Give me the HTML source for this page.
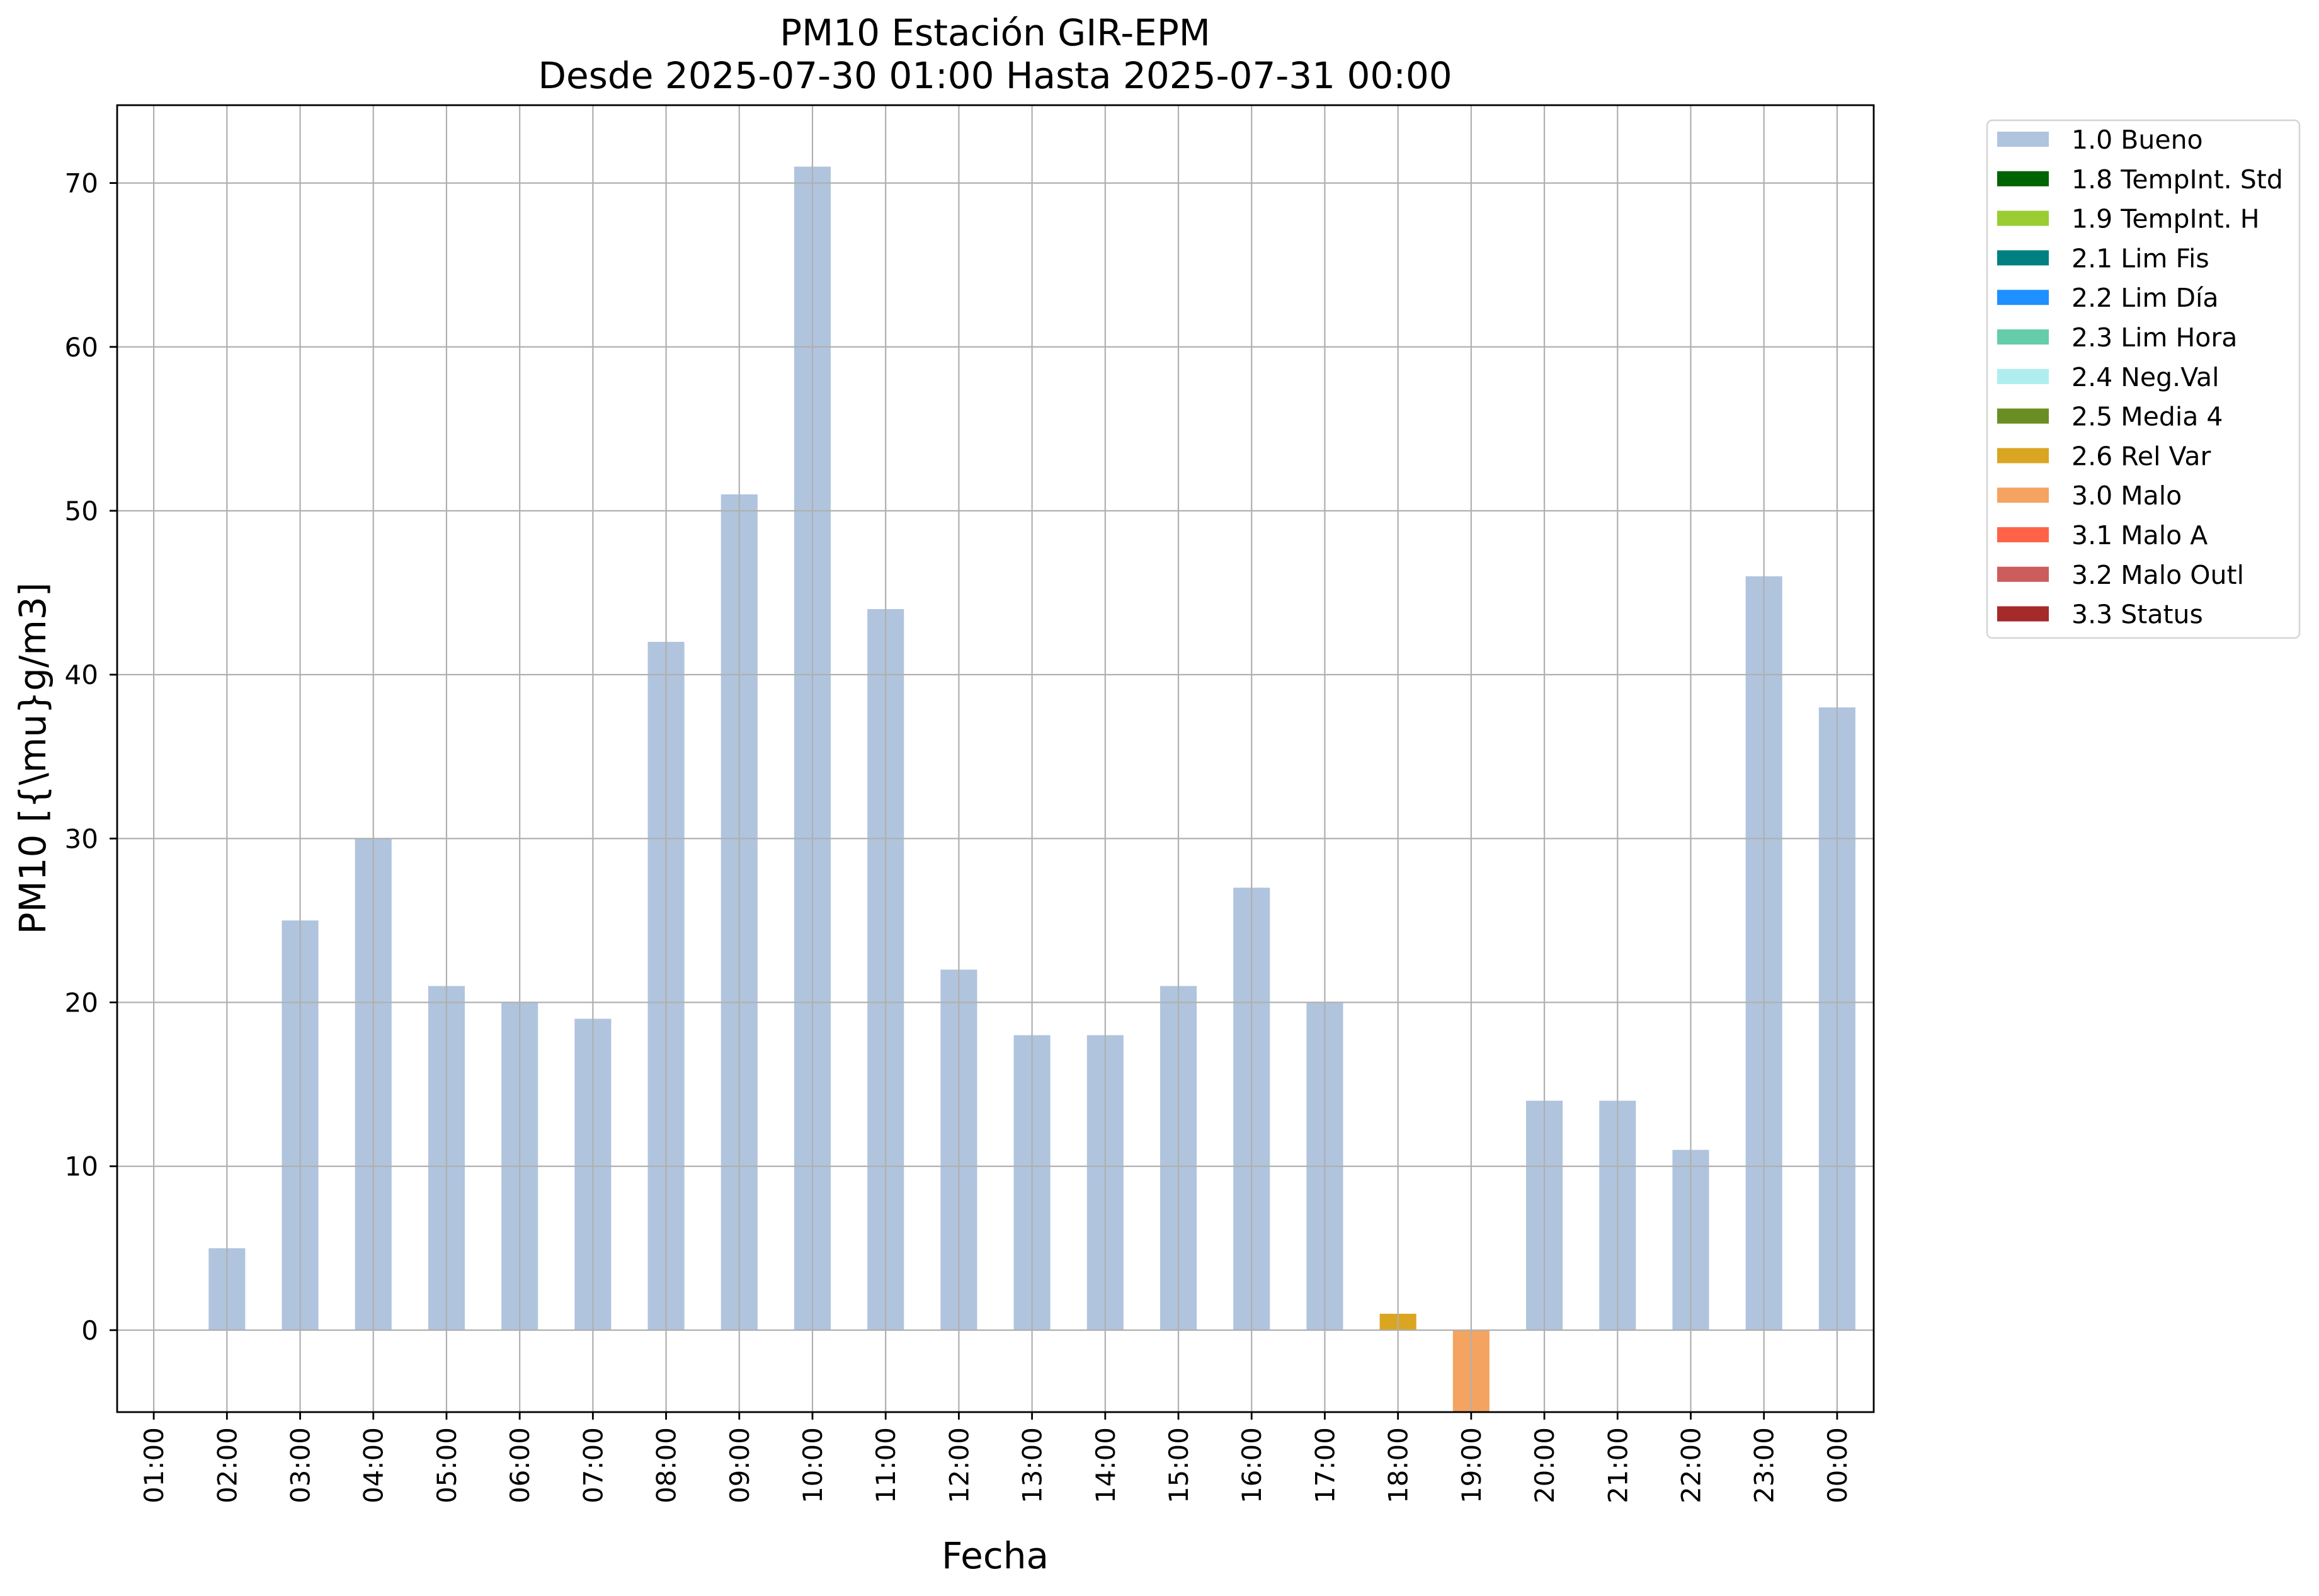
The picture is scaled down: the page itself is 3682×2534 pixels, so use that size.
<!DOCTYPE html>
<html><head><meta charset="utf-8">
<style>
html,body{margin:0;padding:0;background:#fff;}
svg{display:block;font-family:"DejaVu Sans","Liberation Sans",sans-serif;}
</style></head>
<body>
<svg id="chart" width="3682" height="2534" viewBox="0 0 3682 2534" xmlns="http://www.w3.org/2000/svg">
<rect width="3682" height="2534" fill="#fff"/>
<text x="1580" y="72" font-size="58" text-anchor="middle">PM10 Estación GIR-EPM</text>
<text x="1580" y="140" font-size="58" text-anchor="middle">Desde 2025-07-30 01:00 Hasta 2025-07-31 00:00</text>
<text x="1580" y="2490" font-size="58" text-anchor="middle">Fecha</text>
<text transform="translate(72,1204) rotate(-90)" font-size="58" text-anchor="middle">PM10 [{\mu}g/m3]</text>
<g id="bars"></g>
<g id="grid"></g>
<g id="axes"></g>
<g id="legend"></g>
</svg>
<script>
const categories = ["01:00","02:00","03:00","04:00","05:00","06:00","07:00","08:00","09:00","10:00","11:00","12:00","13:00","14:00","15:00","16:00","17:00","18:00","19:00","20:00","21:00","22:00","23:00","00:00"];
const values = [0,5,25,30,21,20,19,42,51,71,44,22,18,18,21,27,20,1,-5,14,14,11,46,38];
const flags = ["1.0","1.0","1.0","1.0","1.0","1.0","1.0","1.0","1.0","1.0","1.0","1.0","1.0","1.0","1.0","1.0","1.0","2.6","3.0","1.0","1.0","1.0","1.0","1.0"];
const yTicks = [0,10,20,30,40,50,60,70];
const legendLabels = ["1.0 Bueno","1.8 TempInt. Std","1.9 TempInt. H","2.1 Lim Fis","2.2 Lim Día","2.3 Lim Hora","2.4 Neg.Val","2.5 Media 4","2.6 Rel Var","3.0 Malo","3.1 Malo A","3.2 Malo Outl","3.3 Status"];
const legendColors = ["#b0c4de","#006400","#9acd32","#008080","#1e90ff","#66cdaa","#afeeee","#6b8e23","#daa520","#f4a460","#ff6347","#cd5c5c","#a52a2a"];

const NS="http://www.w3.org/2000/svg";
const L=186,R=2975,T=167,B=2242;
const yMin=-5,yMax=74.75;
const xMin=-0.5,xMax=categories.length-0.5;
function xs(i){return L+(i-xMin)/(xMax-xMin)*(R-L);}
function ys(v){return B-(v-yMin)/(yMax-yMin)*(B-T);}
function mk(tag,attrs,parent){const e=document.createElementNS(NS,tag);for(const k in attrs)e.setAttribute(k,attrs[k]);parent.appendChild(e);return e;}
function colorFor(f){const i=legendLabels.findIndex(l=>l.startsWith(f));return legendColors[i<0?0:i];}

const gb=document.getElementById('bars');
const bw=(xs(1)-xs(0))*0.5;
values.forEach((v,i)=>{
  if(v===0)return;
  const y0=ys(0),y1=ys(v);
  const r=mk('rect',{x:xs(i)-bw/2,y:Math.min(y0,y1),width:bw,height:Math.abs(y1-y0),fill:colorFor(flags[i])},gb);
  
  
});

const gg=document.getElementById('grid');
categories.forEach((c,i)=>{
  const l=mk('line',{x1:xs(i),x2:xs(i),y1:T,y2:B,stroke:'#b0b0b0','stroke-width':2.2},gg);
  
  
});
yTicks.forEach(t=>{
  const l=mk('line',{x1:L,x2:R,y1:ys(t),y2:ys(t),stroke:'#b0b0b0','stroke-width':2.2},gg);
  
  
});

const ga=document.getElementById('axes');
const frame=mk('rect',{x:L,y:T,width:R-L,height:B-T,fill:'none',stroke:'#000','stroke-width':2.8},ga);


yTicks.forEach(t=>{
  mk('line',{x1:L-12,x2:L,y1:ys(t),y2:ys(t),stroke:'#000','stroke-width':2.8},ga);
  const tx=mk('text',{x:L-30,y:ys(t)+15,'font-size':42,'text-anchor':'end'},ga);
  tx.textContent=t;
  
  
});
categories.forEach((c,i)=>{
  mk('line',{x1:xs(i),x2:xs(i),y1:B,y2:B+12,stroke:'#000','stroke-width':2.8},ga);
  const tx=mk('text',{transform:`translate(${xs(i)+15},${B+24}) rotate(-90)`,'font-size':42,'text-anchor':'end'},ga);
  tx.textContent=c;
  
  
});

const gl=document.getElementById('legend');


mk('rect',{x:3155,y:191,width:496,height:822,rx:8,fill:'#fff',stroke:'#d5d5d5','stroke-width':2.5},gl);
legendLabels.forEach((lab,i)=>{
  const cy=221+i*62.8;
  const g=mk('g',{},gl);
  
  
  mk('rect',{x:3171,y:cy-12,width:82,height:24,fill:legendColors[i]},g);
  const tx=mk('text',{x:3289,y:cy+15,'font-size':41},g);
  tx.textContent=lab;
});
</script>
</body></html>
